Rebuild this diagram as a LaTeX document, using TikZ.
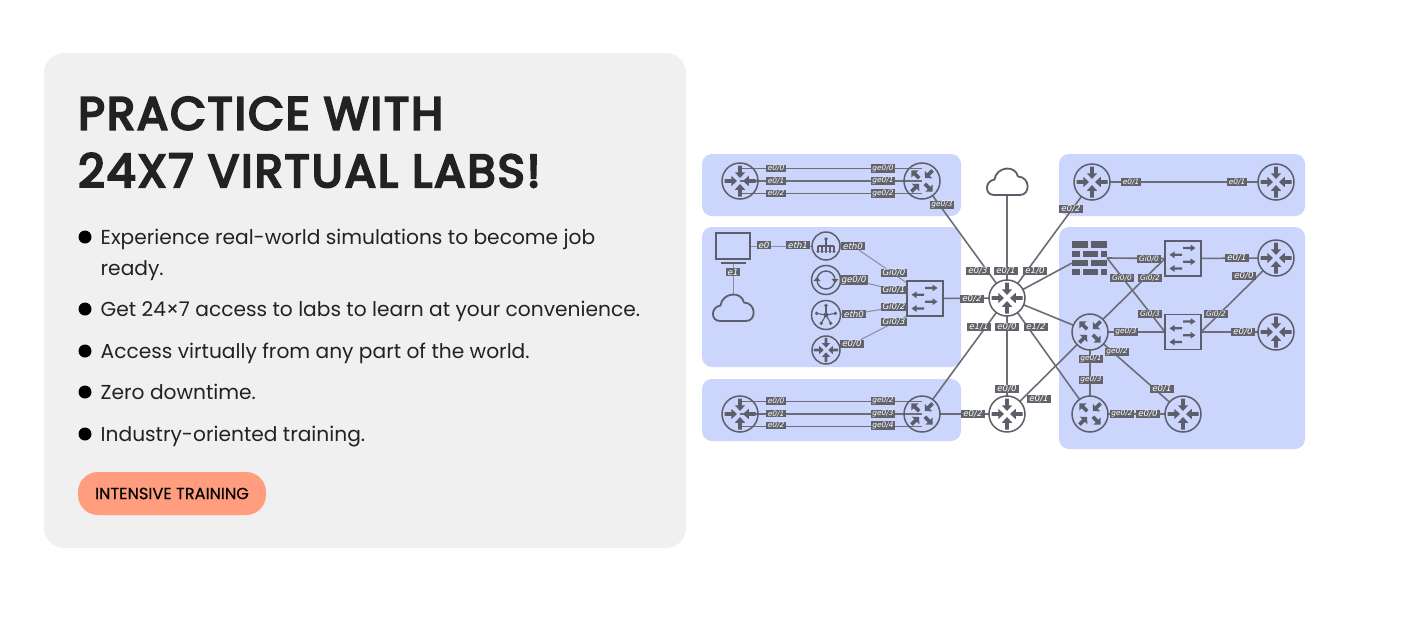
\documentclass[tikz,border=0pt]{standalone}
\usepackage{fontspec}
\setmainfont{Poppins}
\newfontfamily\titlefont{Poppins}[FakeBold=5,LetterSpace=4.6]
\newfontfamily\btnfont{Poppins}[FakeBold=0.4]
\newfontfamily\labfont{DejaVu Sans}
\definecolor{card}{HTML}{F0F0F0}
\definecolor{pill}{HTML}{FF9D7E}
\definecolor{region}{HTML}{CCD5FB}
\definecolor{ink}{HTML}{222222}
\definecolor{icon}{HTML}{5C5E6B}
\definecolor{wire}{HTML}{6C6D75}
\definecolor{thin}{HTML}{8A8CA3}
\definecolor{labbg}{HTML}{62636B}
\pgfdeclarelayer{bg}\pgfdeclarelayer{wires}
\pgfsetlayers{bg,wires,main}
\tikzset{
  x=1pt,y=-1pt,
  regionbox/.style={fill=region,draw=none,rounded corners=10pt},
  rtrshape/.style={circle,draw=icon,line width=1.5pt,inner sep=0pt,outer sep=0pt},
  boxshape/.style={rectangle,draw=icon,line width=1.5pt,inner sep=0pt,outer sep=0pt},
  ghost/.style={rectangle,inner sep=0pt,outer sep=0pt},
  wirel/.style={draw=wire,line width=1.6pt},
  thinl/.style={draw=thin,line width=1pt},
  lab/.style={fill=labbg,text=white,inner xsep=1.8pt,inner ysep=0.6pt,outer sep=0pt,font=\labfont\itshape\fontsize{7.4}{8}\selectfont},
  labb/.style={lab,inner xsep=2pt,inner ysep=0.8pt,font=\labfont\itshape\fontsize{8.6}{9}\selectfont},
  bullettext/.style={anchor=base west,text=ink,inner sep=0pt,font=\fontsize{20.2}{24}\selectfont},
  dotbullet/.style={circle,fill=black,inner sep=0pt,minimum size=13pt},
  titletext/.style={anchor=base west,text=ink,inner sep=0pt,font=\titlefont\fontsize{46}{50}\selectfont},
}
\newcounter{labc}
\newcommand\lb[3]{\stepcounter{labc}\node[lab] (lab\thelabc) at (#1,#2) {#3};}
\newcommand\lB[3]{\stepcounter{labc}\node[labb] (lab\thelabc) at (#1,#2) {#3};}
% arrow along +x, from radius a (tail) to radius b (tip)
\newcommand\blockarrow[2]{%
  \pgfmathsetmacro\hb{#2+(#1-#2)*0.46}%
  \fill[icon] (#1,-1.8) -- (\hb,-1.8) -- (\hb,-5.2) -- (#2,0) -- (\hb,5.2) -- (\hb,1.8) -- (#1,1.8) -- cycle;}
\newcommand\router[4]{% name x y radius
  \node[rtrshape,minimum size=#4*2 pt] (#1) at (#2,#3) {};
  \begin{scope}[shift={(#2,#3)},scale=#4/18]
    \foreach \a in {0,90,180,270}{\begin{scope}[rotate=\a]\blockarrow{15.5}{3}\end{scope}}
  \end{scope}}
\newcommand\xrouter[4]{%
  \node[rtrshape,minimum size=#4*2 pt] (#1) at (#2,#3) {};
  \begin{scope}[shift={(#2,#3)},scale=#4/18]
    \begin{scope}[rotate=45]\blockarrow{15}{4}\end{scope}
    \begin{scope}[rotate=225]\blockarrow{15}{4}\end{scope}
    \begin{scope}[rotate=-45]\blockarrow{4}{15}\end{scope}
    \begin{scope}[rotate=135]\blockarrow{4}{15}\end{scope}
  \end{scope}}
\newcommand\harrow[3]{% x-tail x-tip y
  \pgfmathsetmacro\hb{#2+(#1-#2)*0.4}%
  \fill[icon] (#1,#3-1.1) -- (\hb,#3-1.1) -- (\hb,#3-3.4) -- (#2,#3) -- (\hb,#3+3.4) -- (\hb,#3+1.1) -- (#1,#3+1.1) -- cycle;}
\newcommand\switchbox[5]{% name x y w h
  \node[boxshape,minimum width=#4 pt,minimum height=#5 pt] (#1) at (#2,#3) {};
  \begin{scope}[shift={(#2,#3)}]
    \harrow{0}{12.5}{-10.5}
    \harrow{-1}{-13.5}{-3.7}
    \harrow{0}{12.5}{3.2}
    \harrow{-1}{-13.5}{10}
  \end{scope}}
\newcommand\cloudicon[3]{% name x y
  \node[ghost,minimum width=41pt,minimum height=27pt] (#1) at (#2,#3) {};
  \draw[icon,line width=1.8pt,line join=round,shift={(#2,#3)}]
    (-13,13) .. controls (-22.5,13) and (-22.5,-1) .. (-12.5,-2.5)
    .. controls (-11,-15) and (8,-18) .. (11,-5.5)
    .. controls (23.5,-5) and (23.5,13) .. (13,13) -- cycle;}
\begin{document}
\begin{tikzpicture}
\useasboundingbox (0,0) rectangle (1415,641);
\begin{pgfonlayer}{bg}
\fill[white] (0,0) rectangle (1415,641);
\fill[card,rounded corners=20pt] (44,53) rectangle (686,548);
\fill[regionbox] (702,154) rectangle (961,216);
\fill[regionbox] (702,227) rectangle (961,367);
\fill[regionbox] (702,379) rectangle (961,441);
\fill[regionbox] (1059,154) rectangle (1305,216);
\fill[regionbox] (1059,227) rectangle (1305,449);
\end{pgfonlayer}

% left card
\node[titletext] (t1) at (78,129.5) {PRACTICE WITH};
\node[titletext] (t2) at (78,187) {24X7 VIRTUAL LABS!};
\foreach \n/\y in {a/237,b/309,c/351,d/392,e/434}{\node[dotbullet] (dot\n) at (85,\y) {};}
\node[bullettext] (b1) at (100.5,244) {Experience real-world simulations to become job};
\node[bullettext] (b1x) at (100.5,275) {ready.};
\node[bullettext] (b2) at (100.5,316) {Get 24×7 access to labs to learn at your convenience.};
\node[bullettext] (b3) at (100.5,358) {Access virtually from any part of the world.};
\node[bullettext] (b4) at (100.5,399) {Zero downtime.};
\node[bullettext] (b5) at (100.5,441) {Industry-oriented training.};
\node[fill=pill,rounded corners=20pt,minimum width=188pt,minimum height=43pt,inner sep=0pt,text=black,font=\btnfont\fontsize{16.2}{17}\selectfont] (btn) at (172,493.5) {INTENSIVE TRAINING};

% devices
\router{ra}{740}{181}{18}
\xrouter{xa}{922}{181}{18}
\router{rb}{740}{414}{18}
\xrouter{xb}{922}{414}{18}
\router{cc}{1007}{298}{18}
\router{bb}{1007}{414}{18}
\router{tl}{1092}{182}{18}
\router{tr}{1276}{182}{18}
\router{rc}{1276}{258}{18}
\router{rd}{1276}{332}{18}
\xrouter{mm}{1090}{332}{18}
\xrouter{nn}{1090}{414}{18}
\router{re}{1183}{414}{18}
\switchbox{sa}{925}{298.5}{36}{35}
\switchbox{sb}{1183}{258.5}{36}{35}
\switchbox{sc}{1183}{332}{36}{35}
\cloudicon{cla}{1007}{182}
\cloudicon{clb}{733}{308}

% monitor
\node[boxshape,line width=1.8pt,minimum width=34pt,minimum height=26pt] (mon) at (733,246) {};
\coordinate (stand) at (733,263);
\draw[icon,line width=1.8pt] (720.5,263) -- (745.5,263);

% firewall
\node[ghost,minimum width=35pt,minimum height=34pt] (fw) at (1089.5,258) {};
\begin{scope}[icon]
\fill (1072,241) rectangle (1088,247.5); \fill (1091,241) rectangle (1107,247.5);
\fill (1072,250.5) rectangle (1079.5,257); \fill (1082.5,250.5) rectangle (1097.5,257); \fill (1100.5,250.5) rectangle (1107,257);
\fill (1072,259.5) rectangle (1088,266); \fill (1091,259.5) rectangle (1107,266);
\fill (1072,268.5) rectangle (1079.5,275); \fill (1082.5,268.5) rectangle (1097.5,275); \fill (1100.5,268.5) rectangle (1107,275);
\end{scope}

% small icons
\node[rtrshape,minimum size=28pt] (hier) at (826,246) {};
\begin{scope}[shift={(826,246)}]
  \draw[icon,line width=1.1pt] (0,-7) -- (0,0) (-8,0) -- (8,0) (-8,0) -- (-8,5) (-4,0) -- (-4,5) (0,0) -- (0,5) (4,0) -- (4,5) (8,0) -- (8,5);
  \fill[icon] (0,-7) circle (1.9);
  \foreach \dx in {-8,-4,0,4,8}{\fill[icon] (\dx,5.5) circle (1.7);}
\end{scope}
\node[rtrshape,minimum size=29pt] (ring) at (826,280) {};
\begin{scope}[shift={(826,280)}]
  \draw[icon,line width=1.4pt] (0,0) circle (9);
  \fill[icon] (-9,-3) -- (-5.5,1) -- (-12.5,1) -- cycle;
  \fill[icon] (9,3) -- (5.5,-1) -- (12.5,-1) -- cycle;
\end{scope}
\node[rtrshape,minimum size=29pt] (star) at (826,315) {};
\begin{scope}[shift={(826,315)}]
  \fill[icon] (0,0) circle (2.4);
  \foreach \a in {270,350,60,120,190}{
    \draw[icon,line width=1.1pt] (0,0) -- (\a:9.5);
    \fill[icon] (\a:9.5) circle (1.8);}
\end{scope}
\router{rs}{826}{350}{14}

% labels
\lb{776}{168.5}{e0/0} \lb{776}{181}{e0/1} \lb{776}{193.5}{e0/2}
\lb{883}{168.5}{ge0/0} \lb{883}{181}{ge0/1} \lb{883}{193.5}{ge0/2}
\lb{942}{205}{ge0/3}
\lb{776}{401}{e0/0} \lb{776}{413.7}{e0/1} \lb{776}{425.5}{e0/2}
\lb{883}{401}{ge0/2} \lb{883}{413.7}{ge0/3} \lb{883}{425.5}{ge0/4}
\lB{764}{245}{e0} \lB{798}{245}{eth1} \lB{733}{272}{e1}
\node[labb] (leth) at (853,246) {eth0};
\node[labb] (lge) at (854,280) {ge0/0};
\node[labb] (lst) at (854,314) {eth0};
\node[labb] (lrs) at (852,344) {e0/0};
\lB{894}{273}{Gi0/0} \lB{894}{290}{Gi0/1} \lB{894}{307}{Gi0/2} \lB{894}{322}{Gi0/3}
\lB{972}{299}{e0/2}
\lB{978}{271}{e0/3} \lB{1006}{271}{e0/1} \lB{1035}{271}{e1/0}
\lB{979}{327}{e1/1} \lB{1007}{327}{e0/0} \lB{1036}{327}{e1/2}
\lB{1007}{389}{e0/0} \lB{973}{414}{e0/2} \lB{1039}{399}{e0/1}
\lb{1131}{182}{e0/1} \lb{1237}{182}{e0/1} \lB{1071}{209}{e0/2}
\lb{1149}{259}{Gi0/0} \lB{1237}{258}{e0/1} \lB{1244}{276}{e0/0}
\lb{1122}{278}{Gi0/0} \lb{1150}{278}{Gi0/2}
\lb{1150}{314}{Gi0/3} \lb{1216}{314}{Gi0/2}
\lb{1126}{332}{ge0/3} \lB{1243}{332}{e0/0}
\lb{1117}{352}{ge0/2} \lb{1091}{359}{ge0/1} \lb{1091}{380}{ge0/3}
\lb{1122}{414}{ge0/2} \lB{1148}{414}{e0/0} \lB{1162}{389}{e0/1}

% connectors
\begin{pgfonlayer}{wires}
\foreach \s in {-12.5,0,12.5}{\draw[wirel] ([yshift=\s pt]ra.center) -- ([yshift=\s pt]xa.center);}
\foreach \s in {-12.5,0,12.5}{\draw[wirel] ([yshift=\s pt]rb.center) -- ([yshift=\s pt]xb.center);}
\draw[wirel] (xa) -- (cc);
\draw[wirel] (cla) -- (cc);
\draw[wirel] (tl) -- (cc);
\draw[wirel] (sa) -- (cc);
\draw[wirel] (xb) -- (cc);
\draw[wirel] (bb) -- (cc);
\draw[wirel] (xb) -- (bb);
\draw[wirel] (cc) -- (nn);
\draw[wirel] (cc) -- (mm);
\draw[wirel] (cc) -- ([yshift=-5pt]fw.west);
\draw[wirel] (bb) -- (mm);
\draw[wirel] (tl) -- (tr);
\draw[wirel] (fw.east) -- (sb.west);
\draw[wirel] (sb) -- (rc);
\draw[wirel] (fw.east) -- (sc.west);
\draw[wirel] (mm) -- (sb.west);
\draw[wirel] (mm) -- (sc);
\draw[wirel] (sc) -- (rd);
\draw[wirel] (rc) -- (sc.east);
\draw[wirel] (mm) -- (nn);
\draw[wirel] (mm) -- (re);
\draw[wirel] (nn) -- (re);
\draw[thinl] (mon) -- (hier);
\draw[thinl] (stand) -- (clb.north);
\draw[thinl] (hier) -- (leth);
\draw[thinl] (ring) -- (lge);
\draw[thinl] (star) -- (lst);
\draw[thinl] (rs) -- (lrs);
\draw[thinl] (leth) -- ([yshift=-2pt]sa.north west);
\draw[thinl] (lge) -- ([yshift=-12pt]sa.north west);
\draw[thinl] (lst) -- ([yshift=-24pt]sa.north west);
\draw[thinl] (lrs) -- (sa.south west);
\end{pgfonlayer}
\end{tikzpicture}
\end{document}
